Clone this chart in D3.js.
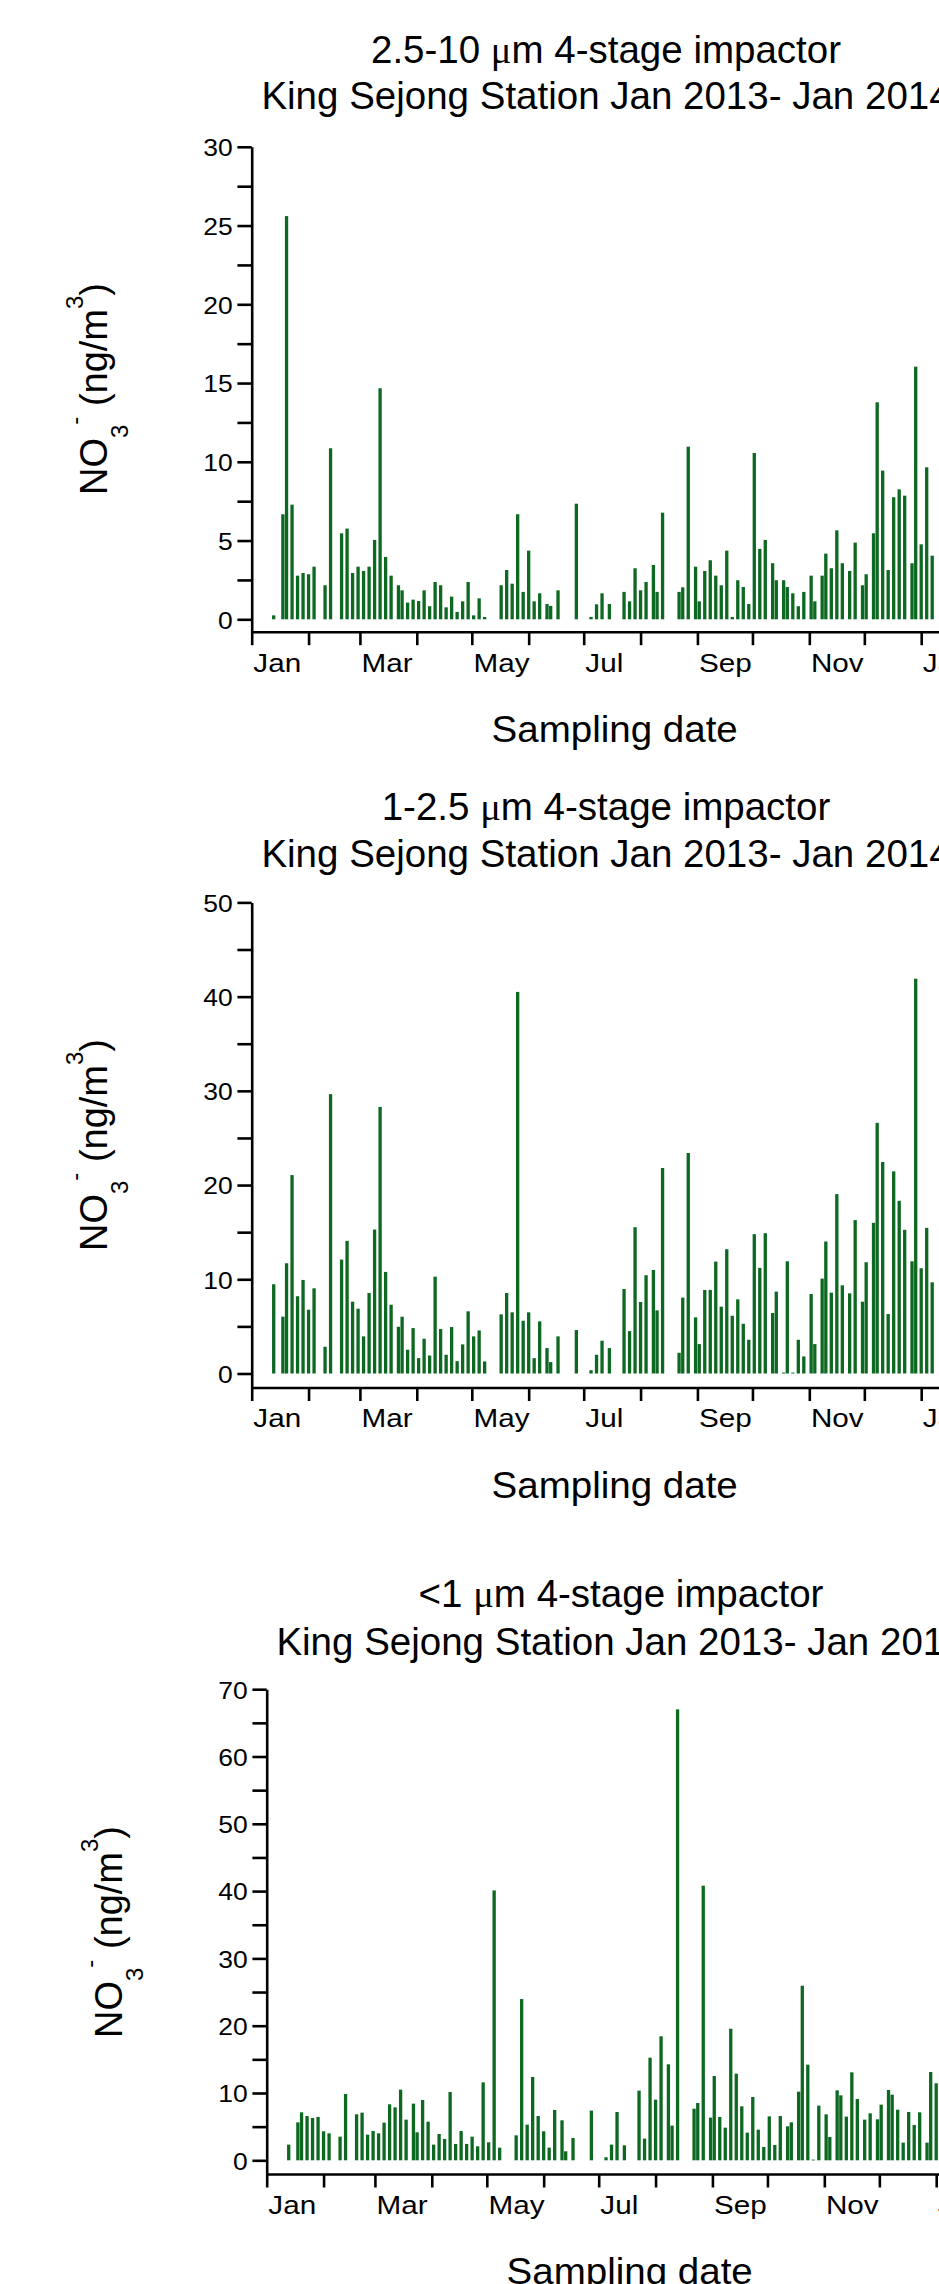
<!DOCTYPE html>
<html><head><meta charset="utf-8">
<script src="https://cdn.jsdelivr.net/npm/d3@7"></script>
<style>
body{margin:0;background:#fff}
svg{display:block}
text{font-family:"Liberation Sans",Arial,Helvetica,sans-serif;fill:#000;white-space:pre}
</style>
</head><body>
<svg id="chart" width="939" height="2284"></svg>
<script>
// Sampling days (day offset from 1 Jan 2013)
const sampleDays = [12,17,19,22,25,28,31,34,40,43,49,52,55,58,61,64,67,70,73,76,80,82,85,88,91,94,97,100,103,106,109,112,115,118,121,124,127,136,139,142,145,148,151,154,157,161,163,167,177,185,188,191,195,203,206,209,212,215,219,221,224,233,235,238,242,244,247,250,253,256,259,262,265,268,271,274,277,280,284,286,290,292,295,298,301,305,307,311,313,316,319,322,326,329,333,335,339,341,344,347,350,353,356,360,362,365,368,371];

// NO3- (ng/m3), 2.5-10 um stage
const coarse = [0.25,6.67,25.6,7.28,2.77,2.94,2.86,3.34,2.16,10.86,
 5.46,5.76,2.94,3.34,3.07,3.34,5.04,14.67,3.96,2.77,
 2.16,1.84,1.06,1.25,1.16,1.84,0.83,2.37,2.16,0.76,
 1.44,0.47,1.14,2.37,0.25,1.33,0.15,2.16,3.13,2.26,
 6.67,1.74,4.36,1.14,1.65,0.97,0.85,1.84,7.34,0.15,
 0.95,1.65,0.97,1.74,1.14,3.24,1.84,2.37,3.45,1.74,
 6.77,1.74,2.03,10.96,3.34,1.14,3.07,3.75,2.77,2.16,
 4.36,0.15,2.48,2.05,0.97,10.56,4.47,5.04,3.56,2.48,
 2.48,2.05,1.65,0.83,1.74,2.77,1.14,2.77,4.17,3.24,
 5.65,3.56,3.07,4.87,2.16,2.86,5.46,13.78,9.44,3.13,
 7.75,8.25,7.85,3.56,16.04,4.76,9.65,4.04];

// 1-2.5 um stage
const fine = [9.47,6.03,11.70,21.06,8.2,9.93,6.77,9.04,2.84,29.65,
 12.09,14.08,7.62,6.88,3.94,8.55,15.28,28.3,10.78,7.30,
 4.96,6.03,2.52,4.82,1.63,3.69,1.91,10.28,4.72,1.99,
 4.93,1.31,3.09,6.60,3.94,4.57,1.28,6.28,8.55,6.49,
 40.5,5.60,6.49,1.63,5.53,2.70,1.21,3.94,4.61,0.35,
 1.99,3.48,2.70,8.97,4.50,15.53,7.59,10.43,10.99,6.70,
 21.81,2.20,8.05,23.4,5.96,3.12,8.87,8.87,11.88,7.09,
 13.19,6.13,7.87,5.28,3.58,14.79,11.21,14.89,6.42,8.69,
 0.1,11.91,0.1,3.58,1.81,8.44,3.12,10.07,14.01,8.58,
 19.04,9.36,8.51,16.28,7.62,11.81,15.99,26.6,22.45,6.31,
 21.45,18.33,15.25,11.91,41.9,11.17,15.46,9.68];

// <1 um stage
const submicron = [2.33,5.64,7.13,6.58,6.29,6.44,4.31,4.01,3.51,9.85,
 6.83,7.08,3.81,4.36,4.01,5.59,8.32,7.87,10.50,6.04,
 8.42,4.16,8.96,5.74,2.33,3.91,3.17,10.15,2.43,4.36,
 2.43,3.51,2.08,11.58,2.67,40.1,1.88,3.71,23.96,5.30,
 12.38,6.58,4.31,1.88,7.48,5.94,1.34,3.32,7.38,0.45,
 2.33,7.18,2.23,10.35,3.22,15.25,9.01,18.42,14.26,5.15,
 67.0,7.67,8.51,40.8,6.34,12.52,6.44,4.85,19.55,12.87,
 8.02,4.11,9.41,4.55,1.98,6.53,2.28,6.58,5.05,5.64,
 10.20,25.94,14.21,0.1,8.12,6.83,3.47,10.40,9.65,6.49,
 13.07,9.11,6.04,6.98,6.09,8.27,10.45,9.75,7.52,2.62,
 7.18,5.25,7.13,2.62,13.12,11.44,null,null];

const sizeLabels = ["2.5-10 ", "1-2.5 ", "<1 "];
const subtitle = "King Sejong Station Jan 2013- Jan 2014";
const yMaxes = [30, 50, 70];
const yMajorSteps = [5, 10, 10];
const xTitle = "Sampling date";

const series = [coarse, fine, submicron];

// layout (pixels)
const layouts = [
  {left:251.7, top:146.8, zero:619.3, axisY:631.7, tcx:606, t1:63.3, t2:109, sampY:741.7, ytx:107, yty:389},
  {left:251.7, top:902.4, zero:1373.5, axisY:1387.5, tcx:606, t1:820, t2:866.7, sampY:1497.5, ytx:107, yty:1145},
  {left:266.7, top:1689.2, zero:2160.3, axisY:2174, tcx:621, t1:1607, t2:1655, sampY:2284, ytx:122, yty:1932}
];

const svg = d3.select("#chart");
const d0 = new Date(Date.UTC(2013,0,1));
const d1 = new Date(Date.UTC(2014,0,1));
const dEnd = new Date(Date.UTC(2014,0,25));
const yearPx = 669.5;
const barColor = "#0d6821";
const barW = 3.3;
const fmtMonth = d3.utcFormat("%b");

series.forEach((vals, i) => {
  const L = layouts[i];
  const g = svg.append("g");
  const x = d3.scaleUtc().domain([d0, d1]).range([L.left, L.left + yearPx]);
  const y = d3.scaleLinear().domain([0, yMaxes[i]]).range([L.zero, L.top]);
  const yAxisScale = y.copy().domain([y.invert(L.axisY), yMaxes[i]]).range([L.axisY, L.top]);
  const xAxisScale = x.copy().domain([d0, dEnd]).range([L.left, x(dEnd)]);

  // bars
  const data = sampleDays.map((d, k) => ({date: d3.utcDay.offset(d0, d), v: vals[k]})).filter(d => d.v != null);
  g.append("g").selectAll("rect").data(data).join("rect")
    .attr("x", d => x(d.date) - barW/2)
    .attr("width", barW)
    .attr("y", d => y(d.v))
    .attr("height", d => Math.max(0.8, y(0) - y(d.v)))
    .attr("fill", barColor);

  // y axis
  const minor = yMajorSteps[i] / 2;
  const yTicks = d3.range(0, yMaxes[i] + 1e-6, minor);
  const ya = g.append("g").attr("transform", `translate(${L.left},0)`)
    .call(d3.axisLeft(yAxisScale).tickValues(yTicks).tickSize(14.3).tickSizeOuter(0).tickPadding(4)
      .tickFormat(v => (Math.abs(v / yMajorSteps[i] - Math.round(v / yMajorSteps[i])) < 1e-6) ? d3.format("d")(v) : ""));
  ya.selectAll("path,line").attr("stroke", "#000").attr("stroke-width", 2.6);
  ya.selectAll("text").style("font-size", "24.5px").attr("x", -19 / 1.08)
    .attr("transform", "scale(1.08,1)").attr("dy", "0.36em").attr("fill", "#000");

  // x axis
  const monthTicks = d3.utcMonth.range(d0, d3.utcMonth.offset(d1, 1));
  const xa = g.append("g").attr("transform", `translate(0,${L.axisY})`)
    .call(d3.axisBottom(xAxisScale).tickValues(monthTicks).tickSize(13.5).tickSizeOuter(0)
      .tickFormat(d => d.getUTCMonth() % 2 === 0 ? fmtMonth(d) : ""));
  xa.selectAll("path,line").attr("stroke", "#000").attr("stroke-width", 2.6);
  xa.selectAll("text").style("font-size", "26.5px").attr("text-anchor", "start")
    .attr("x", 1).attr("y", 40).attr("dy", 0).attr("transform", "scale(1.12,1)").attr("fill", "#000");

  // titles
  const t1 = g.append("text").attr("x", L.tcx).attr("y", L.t1).attr("text-anchor", "middle").style("font-size", "38.5px");
  t1.append("tspan").text(sizeLabels[i]);
  t1.append("tspan").style("font-family", "'Liberation Serif','DejaVu Serif',serif").text("\u03BC");
  t1.append("tspan").text("m 4-stage impactor");
  g.append("text").attr("x", L.tcx).attr("y", L.t2).attr("text-anchor", "middle").style("font-size", "38.5px").text(subtitle);

  // x title
  g.append("text").attr("transform", `translate(${L.left + 363},${L.sampY}) scale(1.07,1)`)
    .attr("text-anchor", "middle").style("font-size", "36px").text(xTitle);

  // y title
  const yt = g.append("text").attr("transform", `translate(${L.ytx},${L.yty}) rotate(-90)`)
    .attr("text-anchor", "middle").style("font-size", "38px");
  yt.append("tspan").text("NO");
  yt.append("tspan").attr("dy", 21).style("font-size", "24px").text("3");
  yt.append("tspan").attr("dy", -45).style("font-size", "24px").text("-");
  yt.append("tspan").attr("dy", 24).text(" (ng/m");
  yt.append("tspan").attr("dy", -24).style("font-size", "24px").text("3");
  yt.append("tspan").attr("dy", 24).text(")");
});
</script>
</body></html>
